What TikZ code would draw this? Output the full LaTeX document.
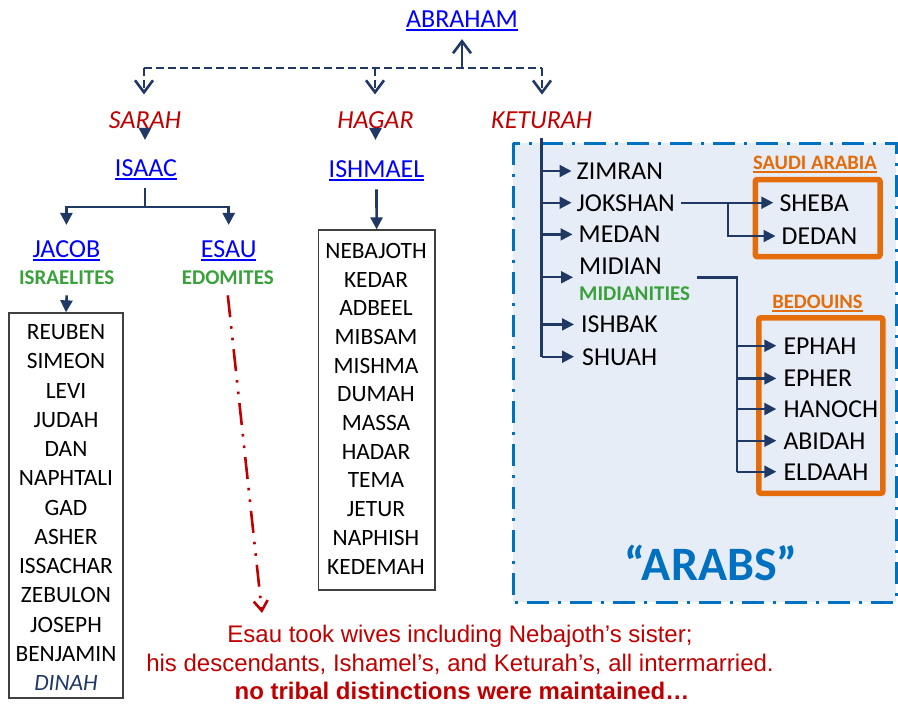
\documentclass[tikz,border=0pt]{standalone}
\usepackage{fontspec}
\setmainfont{Carlito}
\newfontfamily\arialfont{Liberation Sans}
\usetikzlibrary{arrows.meta}
\definecolor{navy}{RGB}{31,56,100}
\definecolor{linkblue}{RGB}{0,0,255}
\definecolor{wred}{RGB}{192,0,0}
\definecolor{tgreen}{RGB}{58,160,58}
\definecolor{obox}{RGB}{228,108,10}
\definecolor{kblue}{RGB}{0,112,192}
\definecolor{kfill}{RGB}{231,237,247}
\definecolor{boxgray}{RGB}{64,64,64}
\newcommand\myul[3]{\setbox0=\hbox{#3}\rlap{\rule[#1]{\wd0}{#2}}\box0}
\begin{document}
\begin{tikzpicture}[x=1pt,y=-1pt,
  lbl/.style={inner sep=0pt, anchor=base},
  link/.style={lbl, text=linkblue, font=\fontsize{26}{30}\selectfont},
  wife/.style={lbl, text=wred, font=\fontsize{26}{30}\selectfont\itshape},
  tribe/.style={lbl, text=tgreen, font=\fontsize{21}{24}\selectfont\bfseries},
  item/.style={lbl, font=\fontsize{23.4}{28}\selectfont},
  kitem/.style={inner sep=0pt, anchor=base west, font=\fontsize{25.8}{30}\selectfont},
  olbl/.style={lbl, text=obox, font=\fontsize{20.5}{24}\selectfont\bfseries},
  note/.style={lbl, text=wred, font=\arialfont\fontsize{24}{28}\selectfont},
  listbox/.style={draw=boxgray, line width=1.3pt, inner sep=0pt},
  conn/.style={draw=navy, line width=2.6pt},
  kbr/.style={draw=navy, line width=2.2pt},
  tri/.style={-{Triangle[length=12pt,width=12pt]}},
  barb/.style={-{Straight Barb[length=12pt,width=18pt]}},
  dsh/.style={draw=navy, line width=2.6pt, dash pattern=on 8pt off 4pt},
  obord/.style={draw=obox, line width=5.5pt, rounded corners=2pt},
]
\useasboundingbox (0,0) rectangle (898,704);

% Keturah background box
\draw[kblue, line width=3pt, fill=kfill, dash pattern=on 22pt off 9pt on 3pt off 9pt] (513,143) rectangle (896,602);

% top level
\node[link] (abraham) at (462,27.5) {\myul{-3.4pt}{1.8pt}{ABRAHAM}};
\node[wife] (sarah) at (145,128) {SARAH};
\node[wife] (hagar) at (375.5,128) {HAGAR};
\node[wife] (keturah) at (541.7,128) {KETURAH};

\coordinate (dj) at (462,68);
\coordinate (dl) at (144,68);
\coordinate (dm) at (375,68);
\coordinate (dr) at (542,68);
\draw[conn, barb, shorten >=8pt] (dj) -- (abraham.south);
\draw[dsh] (dl) -- (dr);
\draw[dsh, barb, shorten >=16.5pt] (dl) -- (dl |- sarah.north);
\draw[dsh, barb, shorten >=16.5pt] (dm) -- (dm |- hagar.north);
\draw[dsh, barb, shorten >=16.5pt] (dr) -- (dr |- keturah.north);

% Isaac branch
\node[link] (isaac) at (146,176) {\myul{-4.1pt}{1.8pt}{ISAAC}};
\draw[conn, tri, shorten <=1pt, shorten >=19pt] (sarah.south) -- (sarah.south |- isaac.north);
\node[link] (jacob) at (66.4,257) {\myul{-4.1pt}{1.8pt}{JACOB}};
\node[link] (esau) at (228.7,257) {\myul{-4.1pt}{1.8pt}{ESAU}};
\node[tribe] (israelites) at (66.7,284) {ISRAELITES};
\node[tribe] (edomites) at (227.8,284) {EDOMITES};
\coordinate (isj) at (145,207);
\draw[conn] ([yshift=-8pt]isaac.south -| isj) -- (isj);
\draw[conn, tri, shorten >=15pt] (isj) -| (jacob.north);
\draw[conn, tri, shorten >=15pt] (isj) -| (esau.north);

% Jacob list
\node[listbox, minimum width=114pt, minimum height=385pt] (jbox) at (66,505.5) {};
\draw[conn, tri] ([yshift=-11pt]israelites.south) -- (jbox.north);
\foreach \n [count=\i from 0] in {REUBEN,SIMEON,LEVI,JUDAH,DAN,NAPHTALI,GAD,ASHER,ISSACHAR,ZEBULON,JOSEPH,BENJAMIN}
  \node[item] (j\i) at (66,{339.5+\i*29.27}) {\n};
\node[item, text=navy, font=\fontsize{23.4}{28}\selectfont\itshape] (dinah) at (66,690.7) {DINAH};

% Ishmael branch
\node[link] (ishmael) at (376.5,177) {\myul{-4.1pt}{1.8pt}{ISHMAEL}};
\draw[conn, tri, shorten <=1pt, shorten >=20pt] (hagar.south) -- (hagar.south |- ishmael.north);
\node[listbox, minimum width=116.7pt, minimum height=360pt] (ibox) at (376.6,410) {};
\draw[conn, tri] ([yshift=-8pt]ishmael.south) -- (ibox.north);
\foreach \n [count=\i from 0] in {NEBAJOTH,KEDAR,ADBEEL,MIBSAM,MISHMA,DUMAH,MASSA,HADAR,TEMA,JETUR,NAPHISH,KEDEMAH}
  \node[item] (s\i) at (376,{258.3+\i*28.7}) {\n};

% Esau note arrow
\coordinate (esauend) at (262,613);
\draw[wred, line width=2.6pt, dash pattern=on 22pt off 9pt on 2.6pt off 9pt on 2.6pt off 9pt,
  -{Straight Barb[length=10pt,width=14pt]}] ([yshift=-11pt]edomites.south) -- (esauend);

% Keturah children
\node[kitem] (zimran) at (576.5,179.3) {ZIMRAN};
\node[kitem] (jokshan) at (576.5,211) {JOKSHAN};
\node[kitem] (medan) at (578.5,242.7) {MEDAN};
\node[kitem] (midian) at (579,274) {MIDIAN};
\node[tribe, anchor=base west] (midianites) at (579,300.7) {MIDIANITIES};
\node[kitem] (ishbak) at (581,332.7) {ISHBAK};
\node[kitem] (shuah) at (582,365) {SHUAH};

\draw[navy, line width=2.8pt] ([yshift=-10pt]keturah.south) -- (keturah.south |- shuah.west);
\draw[kbr, tri, shorten >=5pt] (keturah.south |- zimran.west) -- (zimran.west);
\draw[kbr, tri, shorten >=5pt] (keturah.south |- jokshan.west) -- (jokshan.west);
\draw[kbr, tri, shorten >=6pt] (keturah.south |- medan.west) -- (medan.west);
\coordinate (midarr) at (579,277.3);
\draw[kbr, tri, shorten >=6pt] (keturah.south |- midarr) -- (midarr);
\draw[kbr, tri, shorten >=7pt] (keturah.south |- ishbak.west) -- (ishbak.west);
\draw[kbr, tri, shorten >=8pt] (keturah.south |- shuah.west) -- (shuah.west);

% Saudi Arabia
\node[olbl] (saudi) at (815,169.3) {\myul{-3.2pt}{1.5pt}{SAUDI ARABIA}};
\draw[obord] (755.3,179.5) rectangle (880,256.7);
\node[kitem] (sheba) at (779.3,211.7) {SHEBA};
\node[kitem] (dedan) at (781.5,244.3) {DEDAN};
\coordinate (jx) at (728.3,0);
\draw[kbr, tri] ([xshift=6pt]jokshan.east) -- ([xshift=-6pt]sheba.west |- jokshan.east);
\draw[kbr, tri, shorten >=6pt] (jokshan.east -| jx) |- (dedan.west);

% Bedouins
\node[olbl] (bedouins) at (817.5,308.3) {\myul{-3.2pt}{1.5pt}{BEDOUINS}};
\draw[obord] (758.8,317.8) rectangle (882.8,493.3);
\node[kitem] (ephah) at (783.3,354) {EPHAH};
\node[kitem] (epher) at (783.3,386.7) {EPHER};
\node[kitem] (hanoch) at (783.3,417.3) {HANOCH};
\node[kitem] (abidah) at (783.3,449) {ABIDAH};
\node[kitem] (eldaah) at (783.3,480) {ELDAAH};
\coordinate (mstart) at (697,277.3);
\coordinate (mx) at (737,277.3);
\draw[kbr, line width=2.4pt] (mstart) -- (mx) -- (mx |- eldaah.west);
\foreach \c in {ephah,epher,hanoch,abidah,eldaah}
  \draw[kbr, tri, shorten >=7pt] (mx |- \c.west) -- (\c.west);

% ARABS
\node[lbl, text=kblue, font=\fontsize{48}{56}\selectfont\bfseries] (arabs) at (711,580) {“ARABS”};

% bottom note
\node[note] (note1) at (460,642) {Esau took wives including Nebajoth’s sister;};
\node[note] (note2) at (460,671.5) {his descendants, Ishamel’s, and Keturah’s, all intermarried.};
\node[note, font=\arialfont\fontsize{24}{28}\selectfont\bfseries] (note3) at (462,699) {no tribal distinctions were maintained…};
\end{tikzpicture}
\end{document}
